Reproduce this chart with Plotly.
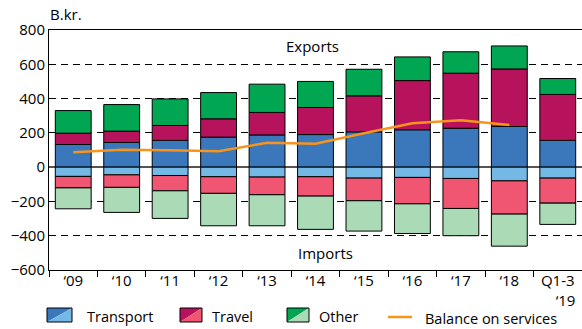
import plotly.graph_objects as go

categories = ["‘09", "‘10", "‘11", "‘12", "‘13", "‘14", "‘15", "‘16", "‘17", "‘18", "Q1-3<br>\u00a0\u00a0\u00a0\u00a0‘19"]

exp_transport = [132, 144, 156, 175, 188, 190, 206, 218, 227, 237, 156]
exp_travel = [66, 66, 87, 107, 131, 158, 210, 287, 321, 336, 268]
exp_other = [132, 155, 155, 153, 165, 152, 155, 138, 125, 134, 93]

imp_transport = [-54, -45, -49, -56, -58, -56, -64, -60, -66, -80, -64]
imp_travel = [-67, -73, -89, -97, -103, -113, -132, -154, -175, -194, -146]
imp_other = [-122, -146, -161, -189, -181, -194, -177, -173, -159, -187, -124]

balance = [87, 101, 99, 93, 142, 137, 198, 256, 273, 246]

C_TD, C_TL = "#3a77bb", "#74b9e6"
C_RD, C_RL = "#b7135c", "#f05672"
C_OD, C_OL = "#00a651", "#aadbb6"
C_BAL = "#f7941d"

FONT = "Open Sans"
W, H = 582, 329
L, R, T, B = 49, 0, 30, 59

fig = go.Figure()
outline = dict(color="black", width=1)
for vals, col, name in [
    (exp_transport, C_TD, "Transport"),
    (exp_travel, C_RD, "Travel"),
    (exp_other, C_OD, "Other"),
    (imp_transport, C_TL, "Transport imports"),
    (imp_travel, C_RL, "Travel imports"),
    (imp_other, C_OL, "Other imports"),
]:
    fig.add_trace(go.Bar(x=categories, y=vals, marker=dict(color=col, line=outline),
                         name=name, showlegend=False))

fig.add_trace(go.Scatter(x=categories[:len(balance)], y=balance, mode="lines",
                         line=dict(color=C_BAL, width=2.5), name="Balance on services",
                         showlegend=False))

def px(x):
    return (x - L) / (W - L - R)

def py(y):
    return (H - B - y) / (H - T - B)

shapes = []
annotations = []

def swatch(x0, x1, y0, y1, dark, light):
    shapes.append(dict(type="path", xref="paper", yref="paper",
                       path=f"M {px(x0)},{py(y0)} L {px(x1)},{py(y0)} L {px(x0)},{py(y1)} Z",
                       fillcolor=dark, line=dict(width=0)))
    shapes.append(dict(type="path", xref="paper", yref="paper",
                       path=f"M {px(x1)},{py(y0)} L {px(x1)},{py(y1)} L {px(x0)},{py(y1)} Z",
                       fillcolor=light, line=dict(width=0)))
    shapes.append(dict(type="rect", xref="paper", yref="paper",
                       x0=px(x0), x1=px(x1), y0=py(y0), y1=py(y1),
                       line=dict(color="black", width=1)))

def label(x, y, text, anchor="left", size=14.5):
    annotations.append(dict(x=px(x), y=py(y), xref="paper", yref="paper", text=text,
                            showarrow=False, xanchor=anchor, yanchor="middle",
                            font=dict(family=FONT, size=size, color="black")))

swatch(47, 72, 308, 322, C_TD, C_TL)
label(85, 316, "Transport")
swatch(180, 202, 308, 322, C_RD, C_RL)
label(210, 316, "Travel")
swatch(287, 309, 308, 322, C_OD, C_OL)
label(317, 316, "Other")
shapes.append(dict(type="line", xref="paper", yref="paper",
                   x0=px(388), x1=px(412), y0=py(317), y1=py(317),
                   line=dict(color=C_BAL, width=2.5)))
label(423, 318, "Balance on services")

label(48, 14, "B.kr.", size=15)
label(312, 46, "Exports", anchor="center", size=15)
label(325, 253, "Imports", anchor="center", size=15)

fig.update_layout(
    width=W, height=H,
    margin=dict(l=L, r=R, t=T, b=B),
    barmode="relative", bargap=0.26,
    plot_bgcolor="white", paper_bgcolor="white",
    font=dict(family=FONT, size=15, color="black"),
    shapes=shapes, annotations=annotations,
    xaxis=dict(showline=True, linecolor="black", linewidth=1, mirror=True,
               ticks="outside", tickson="boundaries", ticklen=6, tickcolor="black",
               ticklabelstandoff=-3,
               showgrid=False, tickfont=dict(size=15)),
    yaxis=dict(range=[-600, 800], dtick=200, showline=True, linecolor="black", linewidth=1,
               showgrid=True, gridcolor="black", gridwidth=1, griddash="7px,5px",
               zeroline=True, zerolinecolor="#555555", zerolinewidth=1.5,
               ticks="", tickfont=dict(size=15)),
)

fig.write_html("out.html", config={"displayModeBar": False},
               post_script="document.body.style.margin='0';document.body.style.overflow='hidden';")
